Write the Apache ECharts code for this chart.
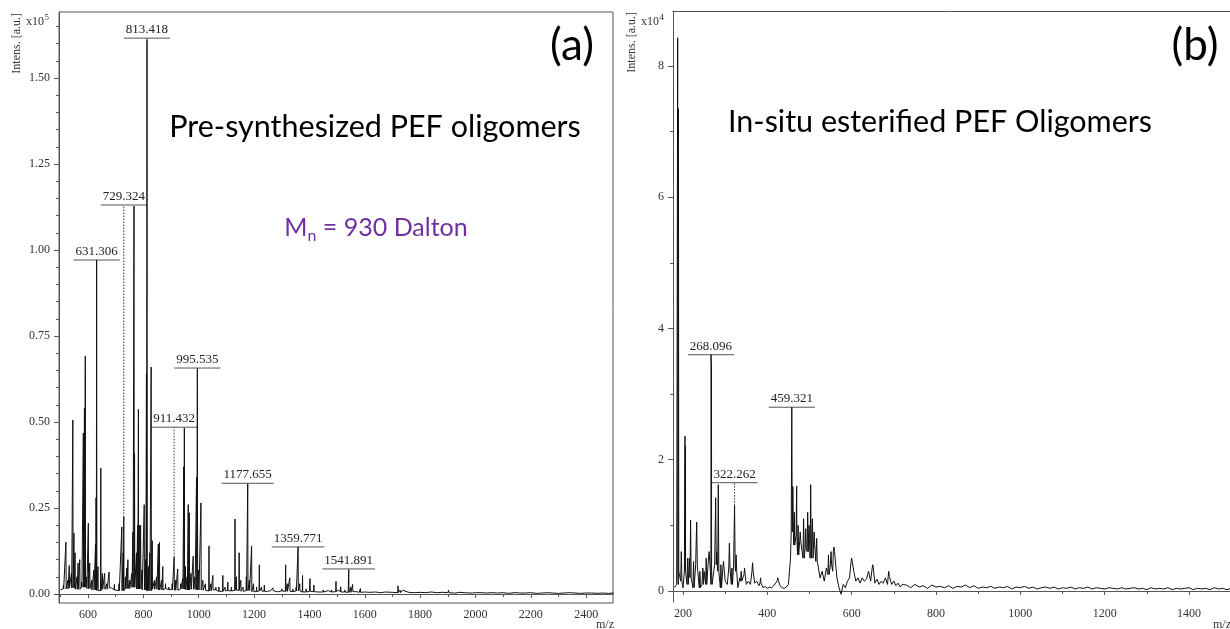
<!DOCTYPE html>
<html><head><meta charset="utf-8">
<script src="https://cdn.jsdelivr.net/npm/echarts@6/dist/echarts.min.js"></script>
<style>html,body{margin:0;padding:0;background:#fff}#c{width:1230px;height:629px}</style>
</head><body><div id="c"></div>
<script>
// ---------------- DATA ----------------
// Panel (a): intensities in units of 1e5
const leftXTicks = [600, 800, 1000, 1200, 1400, 1600, 1800, 2000, 2200, 2400];
const leftXMinor = [500, 700, 900, 1100, 1300, 1500, 1700, 1900, 2100, 2300];
const leftYTicks = [0, 0.25, 0.5, 0.75, 1.0, 1.25, 1.5];
const leftYMinor = [0,0.05,0.1,0.15,0.2,0.25,0.3,0.35,0.4,0.45,0.5,0.55,0.6,0.65,0.7,0.75,0.8,0.85,0.9,0.95,1.0,1.05,1.1,1.15,1.2,1.25,1.3,1.35,1.4,1.45,1.5,1.55,1.6,1.65];
// baseline samples every 20 m/z from 500 to 2500
const leftBaseStart = 500, leftBaseStep = 20;
const leftBase = [
 0.012,0.015,0.018,0.014,0.02,0.016,0.012,0.01,0.014,0.018,0.012,0.01,0.016,0.02,0.015,0.012,0.01,0.014,0.012,0.016,0.013,0.011,0.015,0.012,0.014,0.012,
 0.011,0.009,0.012,0.008,0.01,0.009,0.011,0.008,0.01,0.007,0.009,0.008,0.01,0.007,0.009,0.008,0.007,0.009,0.006,0.008,0.007,0.006,0.008,0.006,0.007,
 0.006,0.005,0.007,0.005,0.006,0.005,0.006,0.004,0.006,0.005,0.004,0.006,0.005,0.004,0.005,0.004,0.006,0.004,0.005,0.004,0.003,0.005,0.004,0.003,0.004,
 0.004,0.003,0.004,0.003,0.004,0.002,0.004,0.003,0.003,0.004,0.002,0.003,0.004,0.003,0.002,0.003,0.004,0.003,0.002,0.003,0.003,0.002,0.003,0.002,0.003
];
// peaks [m/z, intensity]
const leftPeaks = [
 [511,0.026],[520,0.151],[527,0.04],[532,0.083],[540,0.06],[545,0.506],[549,0.177],[553,0.12],[560,0.05],[564,0.09],
 [570,0.10],[577,0.035],[583,0.468],[587,0.54],[590,0.692],[595,0.05],[601,0.206],[606,0.09],[613,0.04],[621,0.07],
 [627,0.145],[629,0.28],[631,0.971],[636,0.08],[646,0.366],[652,0.06],[660,0.06],[668,0.03],[676,0.064],[686,0.02],
 [695,0.028],[712,0.03],[722,0.195],[727,0.12],[729,0.224],[735,0.05],[740,0.076],[744,0.10],[750,0.04],[758,0.06],
 [762,0.18],[766,1.128],[768,0.41],[775,0.12],[779,0.2],[782,0.537],[785,0.2],[790,0.2],[795,0.07],[803,0.26],
 [808,0.1],[811,0.64],[813,1.61],[818,0.08],[823,0.12],[828,0.66],[832,0.155],[840,0.04],[848,0.05],[854,0.145],
 [858,0.15],[866,0.04],[870,0.08],[880,0.03],[892,0.02],[904,0.03],[911,0.107],[916,0.04],[924,0.073],[935,0.03],
 [942,0.045],[946,0.37],[948,0.483],[952,0.08],[958,0.05],[962,0.26],[966,0.236],[972,0.06],[980,0.11],[986,0.05],
 [992,0.34],[995,0.654],[1000,0.07],[1008,0.265],[1015,0.04],[1024,0.03],[1037,0.14],[1044,0.03],[1051,0.054],[1062,0.02],
 [1073,0.02],[1087,0.054],[1095,0.02],[1105,0.035],[1118,0.02],[1131,0.218],[1136,0.05],[1146,0.12],[1152,0.04],[1160,0.02],
 [1172,0.05],[1177,0.32],[1183,0.04],[1191,0.14],[1198,0.03],[1209,0.02],[1219,0.085],[1227,0.02],[1237,0.026],[1250,0.012],
 [1268,0.018],[1290,0.012],[1300,0.015],[1314,0.085],[1320,0.03],[1329,0.047],[1340,0.015],[1352,0.02],[1359,0.137],[1365,0.03],
 [1375,0.054],[1388,0.015],[1402,0.045],[1416,0.026],[1432,0.01],[1450,0.012],[1468,0.01],[1480,0.012],[1496,0.037],[1505,0.012],
 [1513,0.021],[1528,0.012],[1542,0.07],[1549,0.02],[1556,0.028],[1570,0.01],[1584,0.016],[1600,0.008],[1620,0.008],[1640,0.007],
 [1658,0.008],[1676,0.011],[1700,0.008],[1720,0.024],[1728,0.012],[1737,0.011],[1760,0.008],[1780,0.007],[1822,0.007],[1866,0.006],
 [1903,0.011],[1930,0.006],[1990,0.006],[2083,0.005],[2150,0.005],[2280,0.004]
];
// labels: [text, m/z, peak top, label level, dotted]
const leftLabels = [
 ['813.418', 813, 1.61, 1.616, 0],
 ['729.324', 729, 0.224, 1.131, 1],
 ['631.306', 631, 0.971, 0.971, 0],
 ['995.535', 995, 0.654, 0.657, 0],
 ['911.432', 911, 0.107, 0.485, 1],
 ['1177.655', 1177, 0.32, 0.322, 0],
 ['1359.771', 1359, 0.137, 0.137, 0],
 ['1541.891', 1542, 0.07, 0.073, 0]
];

// Panel (b): intensities in units of 1e4
const rightXTicks = [200, 400, 600, 800, 1000, 1200, 1400];
const rightXMinor = [300, 500, 700, 900, 1100, 1300];
const rightYTicks = [0, 2, 4, 6, 8];
const rightYMinor = [0, 1, 2, 3, 4, 5, 6, 7, 8];
const rightBaseStartA = 180, rightBaseStepA = 5;
const rightBaseA = [
 0.05,0.1,0.3,0.15,0.05,0.3,0.1,0.5,0.2,0.05,
 0.4,0.3,0.05,0.1,0.3,0.1,0.45,0.3,0.1,0.4,
 0.6,0.3,0.05,0.35,0.15,0.1,0.35,0.1,0.4,0.3,
 0.05,0.2,0.15,0.25,0.1,0.15,0.1,0.3,0.12,0.15,
 0.08,0.12,0.05,0.07,0.04,0.06,0.05,0.08,0.12,0.16,
 0.08,0.05,0.04,0.06,0.1,0.5,0.9,0.7,0.85,0.55,
 0.75,0.5,0.65,0.6,0.8,0.5,0.7,0.45,0.4,0.2,
 0.3,0.15,0.35,0.25,0.4,0.3,0.6,0.2,0.05,-0.05,
 0.1,0.05,0.15,0.2,0.45,0.3,0.15,0.2,0.12,0.2,
 0.15,0.18,0.3,0.15,0.35,0.12,0.18,0.1,0.15,0.12,
 0.2,0.1,0.22,0.1,0.15,0.08,0.12,0.06,0.1
];
const rightBaseStartB = 730, rightBaseStepB = 10;
const rightBaseB = [
 0.09,0.05,0.1,0.06,0.08,0.04,0.09,0.06,0.07,0.05,
 0.08,0.04,0.07,0.06,0.09,0.05,0.08,0.04,0.06,0.05,
 0.07,0.04,0.06,0.05,0.07,0.03,0.06,0.05,0.07,0.04,
 0.06,0.03,0.05,0.06,0.04,0.06,0.03,0.05,0.04,0.06,
 0.03,0.05,0.04,0.06,0.03,0.05,0.04,0.03,0.05,0.04,
 0.03,0.05,0.03,0.04,0.05,0.03,0.04,0.02,0.05,0.03,
 0.04,0.03,0.05,0.02,0.04,0.03,0.04,0.05,0.02,0.04,
 0.03,0.04,0.02,0.05,0.03,0.04,0.02,0.04,0.03,0.04,
 0.02,0.04,0.03,0.02,0.04,0.03,0.04,0.02,0.03,0.04,
 0.03,0.02
];
const rightPeaks = [
 [187.4,8.43],[189.2,7.35],[196,0.6],[204.7,2.36],[206,2.2],[211,0.5],[218,1.08],[225,0.45],[232.5,1.05],[240,0.3],
 [247,0.35],[255,0.5],[262,0.6],[266.4,3.6],[267.6,3.4],[277.5,1.42],[283.7,1.62],[290,0.4],[296,0.45],[310,0.73],
 [316,0.35],[322.3,1.3],[326,0.55],[338,0.3],[346,0.35],[365,0.43],[384,0.2],[425,0.2],[458,2.8],[460.5,1.59],
 [464,1.2],[469.6,1.6],[473,1.0],[478,0.9],[486,1.1],[491,0.95],[495.7,1.2],[499,1.0],[502.8,1.62],[507,1.1],
 [511,0.9],[517,0.8],[545,0.55],[551,0.6],[558,0.67],[600,0.5],[650,0.4],[688,0.3]
];
const rightLabels = [
 ['268.096', 266.4, 3.6, 3.6, 0],
 ['322.262', 322.3, 1.3, 1.65, 1],
 ['459.321', 458, 2.8, 2.8, 0]
];

// ---------------- BUILD ----------------
function buildTrace(baseSegs, peaks, w) {
  const base = [];
  baseSegs.forEach(s => s.vals.forEach((v, i) => base.push([s.start + i * s.step, v])));
  function foot(m) {
    let b = base[0], bd = Infinity;
    for (const p of base) { const d = Math.abs(p[0] - m); if (d < bd) { bd = d; b = p; } }
    return b[1];
  }
  const pts = base.slice();
  peaks.forEach(([m, h]) => { const f = foot(m); pts.push([m - w, f], [m, h], [m + w, f]); });
  pts.sort((a, b) => a[0] - b[0]);
  return pts;
}
const leftTrace = buildTrace([{start: leftBaseStart, step: leftBaseStep, vals: leftBase}], leftPeaks, 0.9);
const rightTrace = buildTrace([
  {start: rightBaseStartA, step: rightBaseStepA, vals: rightBaseA},
  {start: rightBaseStartB, step: rightBaseStepB, vals: rightBaseB}], rightPeaks, 1.4);

const mctx = document.createElement('canvas').getContext('2d');
function tw(t, font) { mctx.font = font; return mctx.measureText(t).width; }

const SERIF = '"Liberation Serif", "Times New Roman", serif';
const LABEL_FONT = '13px ' + SERIF;
const AX = '#555';

function labelRenderer(labels) {
  return function (params, api) {
    const lab = labels[params.dataIndex];
    const p0 = api.coord([api.value(0), api.value(1)]);
    const p1 = api.coord([api.value(0), api.value(2)]);
    const w = tw(lab[0], LABEL_FONT) + 4;
    const dotted = api.value(3) > 0;
    return {
      type: 'group',
      children: [
        {type: 'line', shape: {x1: p0[0], y1: p0[1], x2: p1[0], y2: p1[1]},
         style: {stroke: dotted ? '#333' : '#222', lineWidth: 1, lineDash: dotted ? [1.5, 1.5] : null}},
        {type: 'line', shape: {x1: p1[0] - w / 2, y1: p1[1], x2: p1[0] + w / 2, y2: p1[1]},
         style: {stroke: AX, lineWidth: 1}},
        {type: 'text', x: p1[0], y: p1[1] - 2,
         style: {text: lab[0], font: LABEL_FONT, fill: '#222', align: 'center', verticalAlign: 'bottom',
                 textAlign: 'center', textVerticalAlign: 'bottom'}}
      ]
    };
  };
}

function mkX(grid, min, max, ticks, minor, fmt) {
  return [
    {gridIndex: grid, type: 'value', position: 'bottom', min: min, max: max,
     axisLine: {show: true, lineStyle: {color: AX, width: 1}},
     axisTick: {show: true, customValues: ticks, length: 4, lineStyle: {color: AX}},
     axisLabel: {show: true, customValues: ticks, formatter: fmt, margin: 6, fontFamily: SERIF, fontSize: 12, color: '#333'},
     splitLine: {show: false}},
    {gridIndex: grid, type: 'value', position: 'bottom', offset: 0, min: min, max: max,
     axisLine: {show: false},
     axisTick: {show: true, customValues: minor, length: 3, lineStyle: {color: AX}},
     axisLabel: {show: false}, splitLine: {show: false}}
  ];
}
function mkY(grid, min, max, ticks, minor, fmt) {
  return [
    {gridIndex: grid, type: 'value', position: 'left', min: min, max: max,
     axisLine: {show: true, lineStyle: {color: AX, width: 1}},
     axisTick: {show: true, customValues: ticks, length: 5, lineStyle: {color: AX}},
     axisLabel: {show: true, customValues: ticks, formatter: fmt, margin: 9, fontFamily: SERIF, fontSize: 12, color: '#333'},
     splitLine: {show: false}},
    {gridIndex: grid, type: 'value', position: 'left', offset: 0, min: min, max: max,
     axisLine: {show: false},
     axisTick: {show: true, customValues: minor, length: 3, lineStyle: {color: AX}},
     axisLabel: {show: false}, splitLine: {show: false}}
  ];
}

const titleFont = 'Lato, "Open Sans", sans-serif';
const mnFontBig = '25px ' + titleFont, mnFontSub = '16px ' + titleFont;
const wM = tw('M', mnFontBig), wN = tw('n', mnFontSub), wRest = tw(' = 930 Dalton', mnFontBig);
const mnX0 = 376 - (wM + wN + wRest) / 2;
const wX10 = tw('x10', '12px ' + SERIF);

function txt(x, y, text, font, fill, align, valign, extra) {
  return Object.assign({type: 'text', x: x, y: y, silent: true,
    style: {text: text, font: font, fill: fill || '#000', align: align || 'center', verticalAlign: valign || 'middle',
            textAlign: align || 'center', textVerticalAlign: valign || 'middle'}}, extra || {});
}

const RMIN = 176.3, RMAX = 1497.2;
const rightAxes = mkX(1, RMIN, RMAX, rightXTicks, rightXMinor, v => String(v));
// top frame line for panel (b) (its right edge is cut off by the picture)
rightAxes.push({gridIndex: 1, type: 'value', position: 'top', min: RMIN, max: RMAX,
  axisLine: {show: true, lineStyle: {color: AX, width: 1}}, axisTick: {show: false}, axisLabel: {show: false}, splitLine: {show: false}});

const option = {
  animation: false,
  backgroundColor: '#fff',
  grid: [
    {left: 59, top: 12, width: 554, height: 591, show: true, borderColor: AX, borderWidth: 1, backgroundColor: 'transparent'},
    {left: 673, top: 11, width: 557, height: 591, show: false}
  ],
  xAxis: [].concat(
    mkX(0, 495, 2497, leftXTicks, leftXMinor, v => String(v)),
    rightAxes
  ),
  yAxis: [].concat(
    mkY(0, -0.026, 1.692, leftYTicks, leftYMinor, v => v.toFixed(2)),
    mkY(1, -0.168, 8.838, rightYTicks, rightYMinor, v => String(v))
  ),
  series: [
    {type: 'line', xAxisIndex: 0, yAxisIndex: 0, data: leftTrace, symbol: 'none', showSymbol: false, silent: true,
     lineStyle: {width: 1, color: '#111'}},
    {type: 'custom', xAxisIndex: 0, yAxisIndex: 0, silent: true, clip: false,
     data: leftLabels.map(l => [l[1], l[2], l[3], l[4]]), renderItem: labelRenderer(leftLabels)},
    {type: 'line', xAxisIndex: 2, yAxisIndex: 2, data: rightTrace, symbol: 'none', showSymbol: false, silent: true,
     lineStyle: {width: 1, color: '#111'}},
    {type: 'custom', xAxisIndex: 2, yAxisIndex: 2, silent: true, clip: false,
     data: rightLabels.map(l => [l[1], l[2], l[3], l[4]]), renderItem: labelRenderer(rightLabels)}
  ],
  graphic: [
    // panel (a) annotations
    txt(17, 13, 'Intens. [a.u.]', '12px ' + SERIF, '#333', 'right', 'middle', {rotation: Math.PI / 2}),
    txt(26, 22, 'x10', '12px ' + SERIF, '#333', 'left', 'middle'),
    txt(26 + wX10 + 0.5, 18, '5', '9px ' + SERIF, '#333', 'left', 'middle'),
    txt(605, 625, 'm/z', '12px ' + SERIF, '#333', 'center', 'middle'),
    txt(572, 46, '(a)', '44px ' + titleFont, '#000'),
    txt(375, 127, 'Pre-synthesized PEF oligomers', '30.5px ' + titleFont, '#000'),
    txt(mnX0, 228, 'M', mnFontBig, '#7030A0', 'left', 'middle'),
    txt(mnX0 + wM, 236, 'n', mnFontSub, '#7030A0', 'left', 'middle'),
    txt(mnX0 + wM + wN, 228, ' = 930 Dalton', mnFontBig, '#7030A0', 'left', 'middle'),
    // panel (b) annotations
    txt(632, 12, 'Intens. [a.u.]', '12px ' + SERIF, '#333', 'right', 'middle', {rotation: Math.PI / 2}),
    txt(641, 22, 'x10', '12px ' + SERIF, '#333', 'left', 'middle'),
    txt(641 + wX10 + 0.5, 18, '4', '9px ' + SERIF, '#333', 'left', 'middle'),
    txt(1213, 625, 'm/z', '12px ' + SERIF, '#333', 'left', 'middle'),
    txt(1195, 46, '(b)', '44px ' + titleFont, '#000'),
    txt(940, 122, 'In-situ esterified PEF Oligomers', '30.5px ' + titleFont, '#000')
  ]
};

const chart = echarts.init(document.getElementById('c'), null, {renderer: 'canvas'});
chart.setOption(option);
</script></body></html>
